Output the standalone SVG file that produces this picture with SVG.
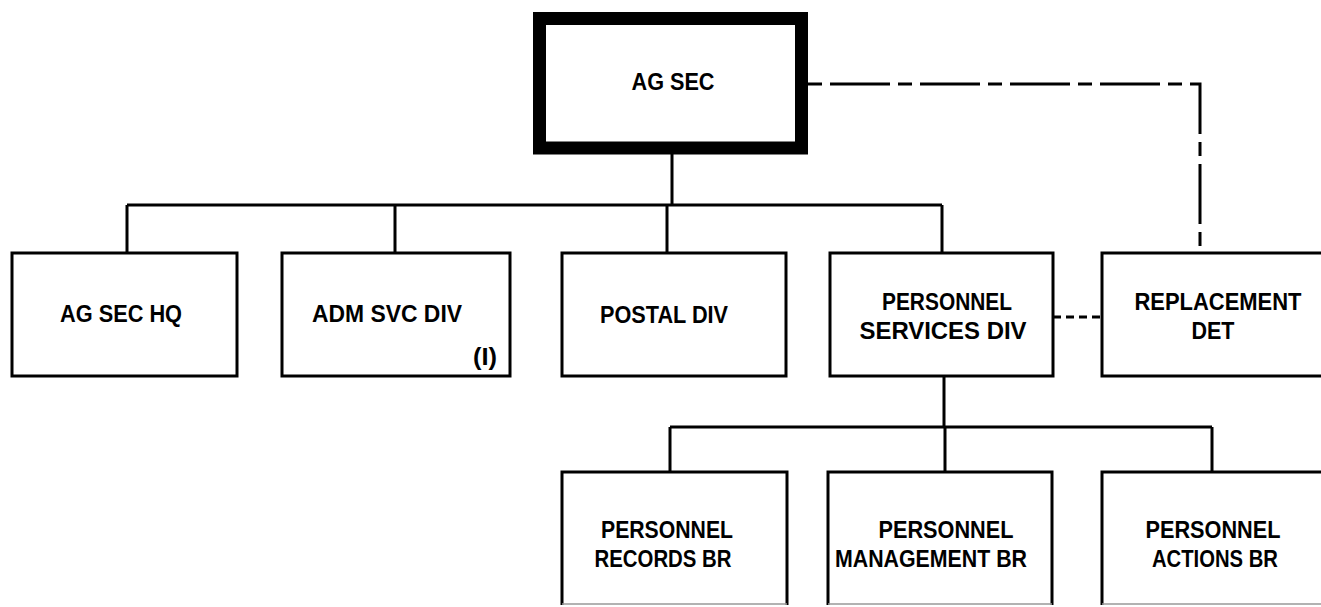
<svg xmlns="http://www.w3.org/2000/svg" width="1321" height="607" viewBox="0 0 1321 607">
<style>
.box{fill:#fff;stroke:#000;stroke-width:3}
.top{fill:#fff;stroke:#000;stroke-width:13}
.ln{fill:none;stroke:#000;stroke-width:3}
.dash{fill:none;stroke:#000;stroke-width:3;stroke-dasharray:14 8 60 8}
.dash2{fill:none;stroke:#000;stroke-width:3;stroke-dasharray:8 5}
.faint{fill:none;stroke:#999;stroke-width:1.5}
text{font-family:"Liberation Sans",Arial,sans-serif;font-size:23px;font-weight:bold;fill:#000;text-anchor:middle}
</style>
<rect width="1321" height="607" fill="#fff"/>
<g id="connectors">
<path class="ln" d="M672,154 V205 M127,205 H942 M127,205 V253 M395,205 V253 M667,205 V253 M942,205 V253"/>
<path class="ln" d="M944,376 V427 M670,427 H1212 M670,427 V472 M945,427 V472 M1212,427 V472"/>
<path class="dash" d="M808,84 H1200 V253"/>
<path class="dash2" d="M1053,317 H1102"/>
</g>
<g id="ag-sec">
<rect class="top" x="539.5" y="18.5" width="262" height="129.5"/>
<text x="673" y="90" textLength="83" lengthAdjust="spacingAndGlyphs">AG SEC</text>
</g>
<g id="ag-sec-hq">
<rect class="box" x="12" y="253" width="225" height="123"/>
<text x="121" y="322" textLength="122" lengthAdjust="spacingAndGlyphs">AG SEC HQ</text>
</g>
<g id="adm-svc-div">
<rect class="box" x="282" y="253" width="228" height="123"/>
<text x="387" y="322" textLength="150" lengthAdjust="spacingAndGlyphs">ADM SVC DIV</text>
<text x="485" y="365" textLength="24" lengthAdjust="spacingAndGlyphs">(I)</text>
</g>
<g id="postal-div">
<rect class="box" x="562" y="253" width="224" height="123"/>
<text x="664" y="323" textLength="128" lengthAdjust="spacingAndGlyphs">POSTAL DIV</text>
</g>
<g id="personnel-services-div">
<rect class="box" x="830" y="253" width="223" height="123"/>
<text x="947" y="310" textLength="130" lengthAdjust="spacingAndGlyphs">PERSONNEL</text>
<text x="943" y="339" textLength="167" lengthAdjust="spacingAndGlyphs">SERVICES DIV</text>
</g>
<g id="replacement-det">
<rect class="box" x="1102" y="253" width="230" height="123"/>
<text x="1218" y="310" textLength="167" lengthAdjust="spacingAndGlyphs">REPLACEMENT</text>
<text x="1213" y="339" textLength="43" lengthAdjust="spacingAndGlyphs">DET</text>
</g>
<g id="personnel-records-br">
<path class="ln" d="M562,605 V472 H787 V605"/>
<path class="faint" d="M562,604 H787"/>
<text x="667" y="538" textLength="132" lengthAdjust="spacingAndGlyphs">PERSONNEL</text>
<text x="663" y="567" textLength="137" lengthAdjust="spacingAndGlyphs">RECORDS BR</text>
</g>
<g id="personnel-management-br">
<path class="ln" d="M828,605 V472 H1052 V605"/>
<path class="faint" d="M828,604 H1052"/>
<text x="946" y="538" textLength="135" lengthAdjust="spacingAndGlyphs">PERSONNEL</text>
<text x="931" y="567" textLength="192" lengthAdjust="spacingAndGlyphs">MANAGEMENT BR</text>
</g>
<g id="personnel-actions-br">
<path class="ln" d="M1102,605 V472 H1325"/>
<path class="faint" d="M1102,604 H1321"/>
<text x="1213" y="538" textLength="135" lengthAdjust="spacingAndGlyphs">PERSONNEL</text>
<text x="1215" y="567" textLength="126" lengthAdjust="spacingAndGlyphs">ACTIONS BR</text>
</g>
</svg>
